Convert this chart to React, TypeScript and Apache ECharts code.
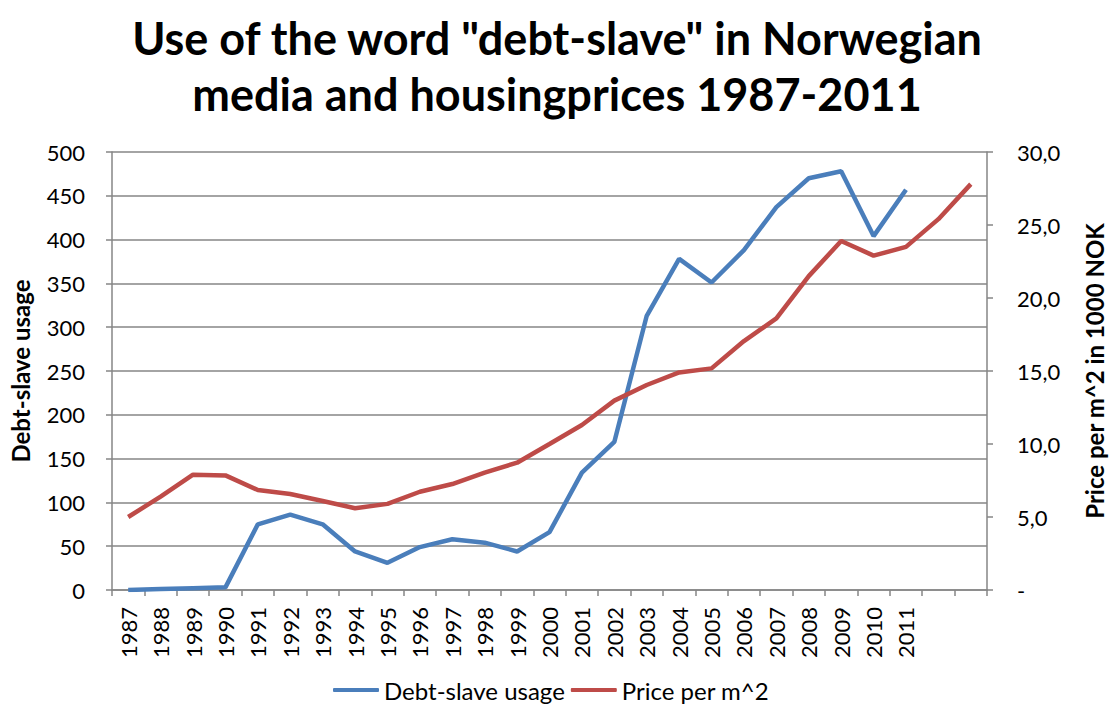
import React, { useEffect, useRef } from "react";
import * as echarts from "echarts";

const years = ["1987","1988","1989","1990","1991","1992","1993","1994","1995","1996","1997","1998","1999","2000","2001","2002","2003","2004","2005","2006","2007","2008","2009","2010","2011","",""];
const debtSlave = [0, 1, 2, 3, 75, 86, 75, 44, 31, 49, 58, 54, 44, 66, 134, 169, 313, 378, 351, 388, 437, 470, 478, 404, 457];
const pricePerM2 = [5.0, 6.4, 7.9, 7.85, 6.85, 6.58, 6.1, 5.6, 5.9, 6.73, 7.26, 8.04, 8.72, 10.0, 11.3, 12.97, 14.04, 14.9, 15.18, 17.05, 18.6, 21.5, 23.9, 22.9, 23.5, 25.4, 27.8];

const FONT = "Lato";

export default function App() {
  const ref = useRef<HTMLDivElement>(null);
  useEffect(() => {
    if (!ref.current) return;
    const chart = echarts.init(ref.current, undefined, { renderer: "svg" });
    const gray = "#868686";
    chart.setOption({
      animation: false,
      backgroundColor: "#fff",
      textStyle: { fontFamily: FONT },
      title: {
        text: 'Use of the word "debt-slave" in Norwegian\nmedia and housingprices 1987-2011',
        left: "center",
        top: 5,
        textStyle: { fontFamily: FONT, fontWeight: "bold", fontSize: 45, lineHeight: 56, color: "#000" },
      },
      legend: {
        bottom: 2,
        left: 328,
        itemWidth: 46,
        itemHeight: 4,
        itemGap: 6,
        icon: "roundRect",
        textStyle: { fontFamily: FONT, fontSize: 24, color: "#000" },
        data: ["Debt-slave usage", "Price per m^2"],
      },
      grid: { left: 110, right: 125, top: 152, bottom: 119, containLabel: false },
      xAxis: {
        type: "category",
        data: years,
        boundaryGap: true,
        axisLine: { lineStyle: { color: gray, width: 1.5 } },
        axisTick: { show: true, length: 6, lineStyle: { color: gray, width: 1.5 }, interval: 0 },
        axisLabel: { rotate: 90, interval: 0, fontFamily: FONT, fontSize: 22, color: "#000", margin: 17 },
      },
      yAxis: [
        {
          type: "value",
          min: 0,
          max: 500,
          interval: 50,
          name: "Debt-slave usage",
          nameLocation: "middle",
          nameGap: 80,
          nameTextStyle: { fontFamily: FONT, fontWeight: "bold", fontSize: 24, color: "#000" },
          axisLine: { show: true, lineStyle: { color: gray, width: 1.5 } },
          axisTick: { show: true, length: 6, lineStyle: { color: gray, width: 1.5 } },
          splitLine: { show: true, lineStyle: { color: gray, width: 1.5 } },
          axisLabel: { fontFamily: FONT, fontSize: 22, color: "#000", margin: 27 },
        },
        {
          type: "value",
          min: 0,
          max: 30,
          interval: 5,
          position: "right",
          name: "Price per m^2 in 1000 NOK",
          nameLocation: "middle",
          nameGap: 95,
          nameRotate: 90,
          nameTextStyle: { fontFamily: FONT, fontWeight: "bold", fontSize: 24, color: "#000" },
          axisLine: { show: true, lineStyle: { color: gray, width: 1.5 } },
          axisTick: { show: true, length: 6, lineStyle: { color: gray, width: 1.5 } },
          splitLine: { show: false },
          axisLabel: {
            fontFamily: FONT,
            fontSize: 22,
            color: "#000",
            margin: 30,
            formatter: (v: number) => (v === 0 ? "-" : v.toFixed(1).replace(".", ",")),
          },
        },
      ],
      series: [
        {
          name: "Debt-slave usage",
          type: "line",
          yAxisIndex: 0,
          data: debtSlave,
          symbol: "none",
          lineStyle: { color: "#4A7EBB", width: 4.5 },
          itemStyle: { color: "#4A7EBB" },
        },
        {
          name: "Price per m^2",
          type: "line",
          yAxisIndex: 1,
          data: pricePerM2,
          symbol: "none",
          lineStyle: { color: "#BE4B48", width: 4.5 },
          itemStyle: { color: "#BE4B48" },
        },
      ],
    });
    return () => chart.dispose();
  }, []);
  return <div ref={ref} style={{ width: 1114, height: 709, position: "absolute", left: 0, top: 0 }} />;
}
